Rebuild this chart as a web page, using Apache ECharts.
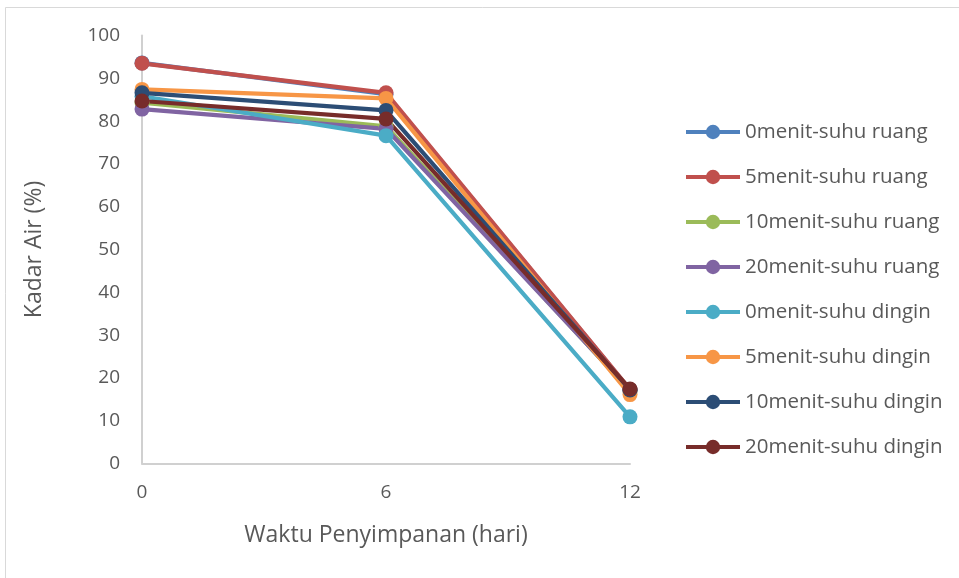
<!DOCTYPE html>
<html>
<head>
<meta charset="utf-8">
<style>
  html, body { margin: 0; padding: 0; background: #ffffff; }
  #chart { width: 959px; height: 578px; }
</style>
<script src="https://cdn.jsdelivr.net/npm/echarts@6/dist/echarts.min.js"></script>
</head>
<body>
<div id="chart"></div>
<script>
// Storage time (days) on the x axis
const days = ['0', '6', '12'];

// Moisture content (%) per treatment
const menit0Ruang = [93.6, 86.3, 17.2];
const menit5Ruang = [93.5, 86.6, 17.3];
const menit10Ruang = [84.3, 78.8, 17.0];
const menit20Ruang = [82.8, 78.2, 17.1];
const menit0Dingin = [85.8, 76.6, 10.9];
const menit5Dingin = [87.4, 85.3, 16.1];
const menit10Dingin = [86.6, 82.5, 17.2];
const menit20Dingin = [84.7, 80.5, 17.4];

const seriesNames = [
  '0menit-suhu ruang', '5menit-suhu ruang', '10menit-suhu ruang', '20menit-suhu ruang',
  '0menit-suhu dingin', '5menit-suhu dingin', '10menit-suhu dingin', '20menit-suhu dingin'
];
const seriesValues = [
  menit0Ruang, menit5Ruang, menit10Ruang, menit20Ruang,
  menit0Dingin, menit5Dingin, menit10Dingin, menit20Dingin
];
const colors = ['#4F81BD', '#C0504D', '#9BBB59', '#8064A2', '#4BACC6', '#F79646', '#2C4D75', '#772C2A'];

const font = '"Open Sans", "Noto Sans", sans-serif';
const textColor = '#595959';

const chart = echarts.init(document.getElementById('chart'), null, { renderer: 'canvas' });

chart.setOption({
  animation: false,
  backgroundColor: '#ffffff',
  color: colors,
  graphic: [{
    type: 'rect',
    silent: true,
    shape: { x: 5.5, y: 7.5, width: 1000, height: 600 },
    style: { fill: 'none', stroke: '#d9d9d9', lineWidth: 1 }
  }],
  grid: { left: 142, right: 329, top: 35.5, bottom: 114.5, containLabel: false },
  legend: {
    orient: 'vertical',
    left: 679,
    top: 116.5,
    padding: 5,
    itemWidth: 54,
    itemHeight: 18,
    itemGap: 24,
    lineStyle: { width: 4 },
    textStyle: { fontFamily: font, fontSize: 20.5, color: textColor },
    data: seriesNames
  },
  xAxis: {
    type: 'category',
    data: days,
    boundaryGap: false,
    name: 'Waktu Penyimpanan (hari)',
    nameLocation: 'middle',
    nameGap: 60,
    nameTextStyle: { fontFamily: font, fontSize: 23, color: textColor },
    axisLine: { lineStyle: { color: '#d0d0d0', width: 2 } },
    axisTick: { show: false },
    axisLabel: { fontFamily: font, fontSize: 19, color: textColor, margin: 20 },
    splitLine: { show: false }
  },
  yAxis: {
    type: 'value',
    min: 0,
    max: 100,
    interval: 10,
    name: 'Kadar Air (%)',
    nameLocation: 'middle',
    nameGap: 96,
    nameRotate: 90,
    nameTextStyle: { fontFamily: font, fontSize: 23, color: textColor },
    axisLine: { show: true, lineStyle: { color: '#d0d0d0', width: 2 } },
    axisTick: { show: false },
    axisLabel: { fontFamily: font, fontSize: 19, color: textColor, margin: 22 },
    splitLine: { show: false }
  },
  series: seriesNames.map((name, i) => ({
    name: name,
    type: 'line',
    data: seriesValues[i],
    symbol: 'circle',
    symbolSize: 15,
    lineStyle: { width: 4.2, color: colors[i] },
    itemStyle: { color: colors[i] },
    emphasis: { disabled: true }
  }))
});
</script>
</body>
</html>
